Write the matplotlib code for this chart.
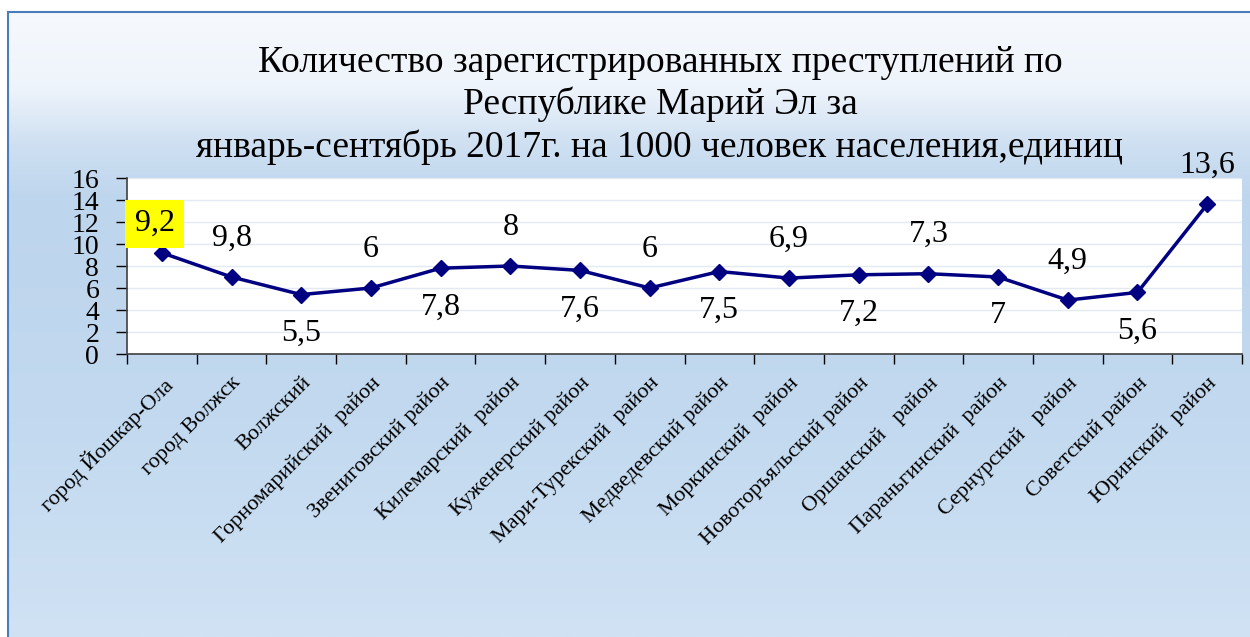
import numpy as np
import matplotlib.pyplot as plt
from matplotlib.colors import to_rgb

plt.rcParams['font.family'] = ['Liberation Serif', 'DejaVu Serif']

districts = ['город Йошкар-Ола', 'город Волжск', 'Волжский', 'Горномарийский  район',
             'Звениговский район', 'Килемарский  район', 'Куженерский район',
             'Мари-Турекский  район', 'Медведевский район', 'Моркинский  район',
             'Новоторъяльский район', 'Оршанский   район', 'Параньгинский  район',
             'Сернурский   район', 'Советский район', 'Юринский  район']
values = [9.2, 7.0, 5.4, 6.0, 7.8, 8.0, 7.6, 6.0, 7.5, 6.9, 7.2, 7.3, 7.0, 4.9, 5.6, 13.6]
value_labels = ['9,2', '9,8', '5,5', '6', '7,8', '8', '7,6', '6', '7,5', '6,9',
                '7,2', '7,3', '7', '4,9', '5,6', '13,6']
title = ('Количество зарегистрированных преступлений по\n'
         'Республике Марий Эл за\n'
         'январь-сентябрь 2017г. на 1000 человек населения,единиц')

fig = plt.figure(figsize=(12.5, 6.37), dpi=100, facecolor='white')

# gradient panel behind everything
bg = fig.add_axes([8 / 1250, 0, 1 - 8 / 1250, 625 / 637])
stops = [(0.0, '#f6f9fd'), (0.12, '#eef4fb'), (0.21, '#cfe0f2'), (0.3, '#bdd5ed'),
         (0.65, '#c2d9ef'), (1.0, '#d0e2f4')]
rows = np.linspace(0, 1, 300)
cols = np.array([np.interp(rows, [s[0] for s in stops], [to_rgb(s[1])[i] for s in stops])
                 for i in range(3)]).T
bg.imshow(cols[:, None, :], aspect='auto', extent=[0, 1, 0, 1])
bg.set_xlim(0, 1)
bg.set_ylim(0, 1)
bg.set_xticks([])
bg.set_yticks([])
for side in ['right', 'bottom']:
    bg.spines[side].set_visible(False)
for side in ['left', 'top']:
    bg.spines[side].set_color('#4a7ebb')
    bg.spines[side].set_linewidth(1.5)

fig.text(0.528, 1 - 45 / 637, title, ha='center', va='top', fontsize=27, linespacing=1.26)

ax = fig.add_axes([127 / 1250, 1 - 354 / 637, 1115 / 1250, 176 / 637])
ax.set_facecolor('white')
x = np.arange(len(districts))
ax.plot(x, values, color='#000080', lw=2.5, marker='D', ms=8, zorder=3)

for i, (v, lab) in enumerate(zip(values, value_labels)):
    dy = 28 if (i % 2 == 1 or i in (0, 3)) else -28
    dx = 0
    box = None
    if i == 0:
        dx, dy = -5, 21
        box = dict(boxstyle='square,pad=0.3', fc='#ffff00', ec='none')
    ax.annotate(lab, (i, v), xytext=(dx, dy), textcoords='offset points',
                ha='center', va='center', fontsize=23, bbox=box, zorder=4)

ax.set_xlim(-0.5, len(districts) - 0.5)
ax.set_ylim(0, 16)
ax.set_yticks(range(0, 17, 2))
ax.tick_params(axis='y', labelsize=20, length=8, width=1, pad=12, direction='out')
ax.yaxis.grid(True, color='#e3eaf3', lw=1)
ax.set_axisbelow(True)

ax.set_xticks(x)
ax.set_xticklabels(districts, rotation=45, ha='right', rotation_mode='anchor', fontsize=16)
ax.set_xticks(np.arange(-0.5, len(districts)), minor=True)
ax.tick_params(axis='x', which='major', length=0, pad=14)
ax.tick_params(axis='x', which='minor', length=7, width=1, direction='out')

for side in ['top', 'right']:
    ax.spines[side].set_visible(False)
for side in ['left', 'bottom']:
    ax.spines[side].set_color('#404040')
    ax.spines[side].set_linewidth(1.2)

fig.savefig('out.png', dpi=100)
